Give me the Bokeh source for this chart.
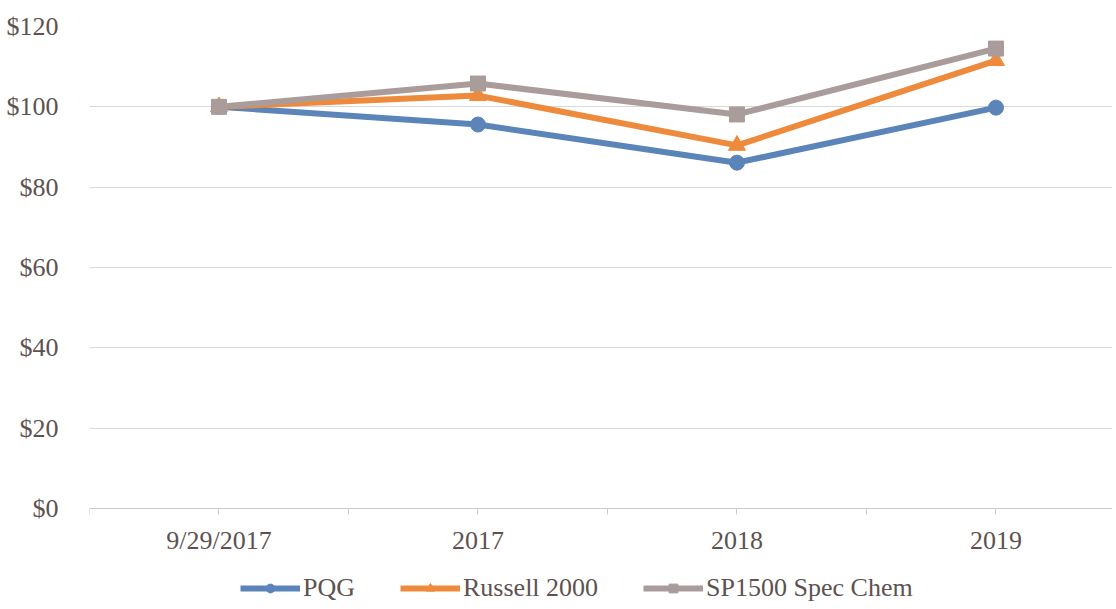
from bokeh.plotting import figure
from bokeh.models import (ColumnDataSource, Range1d, FixedTicker, NumeralTickFormatter,
                          Legend, LegendItem)
from bokeh.core.properties import value
from bokeh.embed import file_html
from bokeh.resources import INLINE

categories = ["9/29/2017", "2017", "2018", "2019"]
pqg = [100.0, 95.6, 86.1, 99.8]
russell = [100.0, 102.8, 90.4, 111.5]
sp1500 = [100.0, 105.8, 98.1, 114.5]
series_names = ["PQG", "Russell 2000", "SP1500 Spec Chem"]

xpos = [i + 0.5 for i in range(len(categories))]
src = ColumnDataSource(dict(x=xpos, pqg=pqg, russell=russell, sp=sp1500,
                            cat=categories, zero=[0] * len(categories)))

FONT = "Liberation Serif"
TXT = "#5e5250"
FS = "26px"

# frame: top at 26px, $0 line at 508px (482px for 120 units); frame extends below $0
FRAME_H = 577
y_low = -(FRAME_H - 482) / (482 / 120)

p = figure(frame_width=1023, frame_height=FRAME_H, output_backend="svg", toolbar_location=None,
           x_range=Range1d(0, 3.95), y_range=Range1d(y_low, 120),
           min_border_left=89, min_border_top=26, min_border_right=0,
           min_border_bottom=0)
p.outline_line_color = None
p.background_fill_color = "white"

# y axis
p.xgrid.grid_line_color = None
p.ygrid.grid_line_color = "#d9d9d9"
p.ygrid.grid_line_width = 1
p.yaxis.ticker = FixedTicker(ticks=[0, 20, 40, 60, 80, 100, 120])
p.yaxis.formatter = NumeralTickFormatter(format="$0")
p.yaxis.axis_line_color = None
p.yaxis.major_tick_line_color = None
p.yaxis.minor_tick_line_color = None
p.yaxis.major_label_standoff = 25
p.yaxis.major_label_text_font = FONT
p.yaxis.major_label_text_font_size = FS
p.yaxis.major_label_text_color = TXT

# x axis drawn at $0 inside the frame
ticks = [i * 0.5 for i in range(0, 9)]
p.xaxis.ticker = FixedTicker(ticks=ticks)
p.xaxis.major_label_overrides = {t: "" for t in ticks}
p.xaxis.major_label_text_font_size = "0px"
p.xaxis.major_label_standoff = 0
p.xaxis.fixed_location = 0
p.xaxis.axis_line_color = "#d0c8c6"
p.xaxis.major_tick_line_color = "#d0c8c6"
p.xaxis.major_tick_in = 0
p.xaxis.major_tick_out = 6
p.xaxis.minor_tick_line_color = None

# category labels
p.text("x", "zero", text="cat", source=src, y_offset=32, text_align="center",
       text_baseline="middle", text_font=value(FONT), text_font_size=FS, text_color=TXT)

blue = "#5b84b8"
orange = "#ed8a3c"
grey = "#a99c9a"

l1 = p.line("x", "pqg", source=src, line_color=blue, line_width=6)
m1 = p.scatter("x", "pqg", source=src, marker="circle", size=15, fill_color=blue, line_color=blue)
l2 = p.line("x", "russell", source=src, line_color=orange, line_width=6)
m2 = p.scatter("x", "russell", source=src, marker="triangle", size=17, fill_color=orange, line_color=orange)
l3 = p.line("x", "sp", source=src, line_color=grey, line_width=6)
m3 = p.scatter("x", "sp", source=src, marker="square", size=15, fill_color=grey, line_color=grey)

legend = Legend(items=[
    LegendItem(label=series_names[0], renderers=[l1, m1]),
    LegendItem(label=series_names[1], renderers=[l2, m2]),
    LegendItem(label=series_names[2], renderers=[l3, m3]),
], orientation="horizontal", location=(151, 0))
legend.label_text_font = FONT
legend.label_text_font_size = FS
legend.label_text_color = TXT
legend.glyph_width = 60
legend.glyph_height = 22
legend.spacing = 45
legend.label_standoff = 3
legend.border_line_color = None
legend.background_fill_alpha = 0
legend.padding = 0
legend.margin = 0
p.add_layout(legend, "center")

open("out.html", "w").write(file_html(p, INLINE))
